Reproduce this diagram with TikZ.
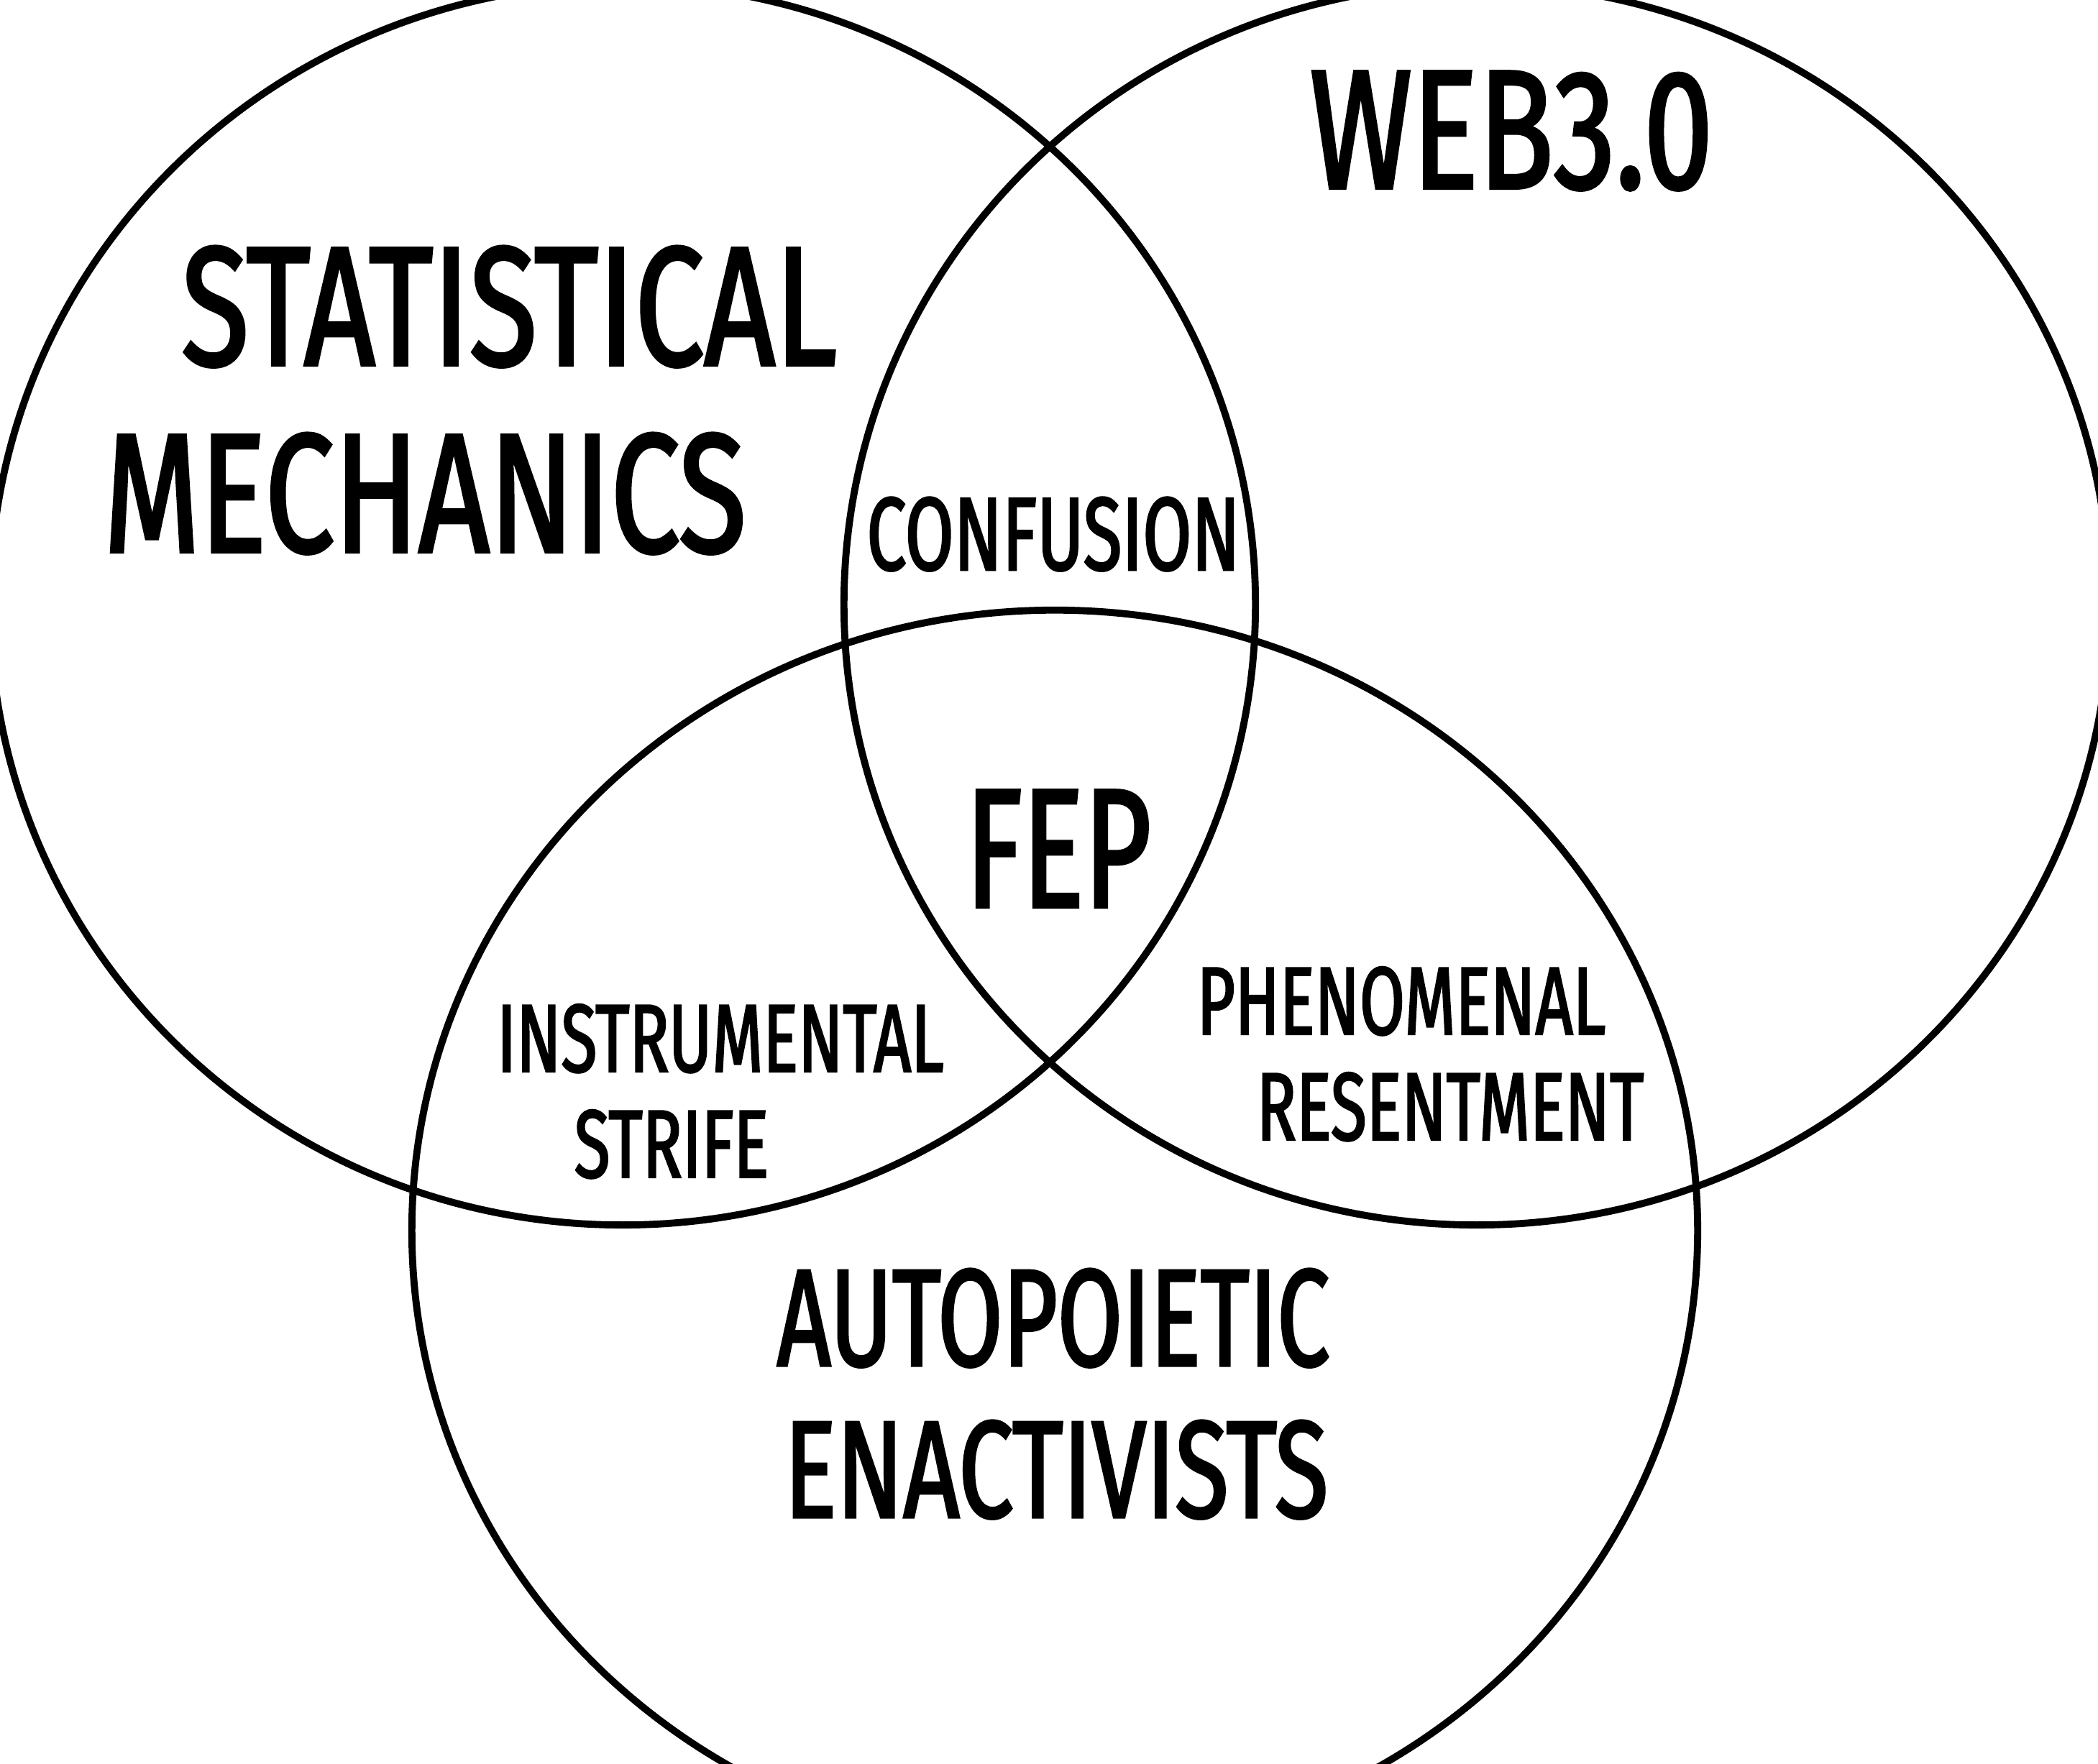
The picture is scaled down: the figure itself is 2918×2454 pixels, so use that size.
\documentclass[tikz,border=0pt]{standalone}
\usepackage{fontspec}
\usepackage{tikz}
\usetikzlibrary{positioning}
\newfontfamily\vennfont[FakeStretch=0.68, FakeBold=1.8]{Fira Sans}
\newfontfamily\vennwide[FakeStretch=0.73, FakeBold=1.8]{Fira Sans}
\tikzstyle{setline} = [draw, line width=1.4pt]
\tikzstyle{bigname} = [font=\vennwide\fontsize{33.6}{40}\selectfont, anchor=base, inner sep=0pt]
\tikzstyle{fepname} = [font=\vennfont\fontsize{33.6}{40}\selectfont, anchor=base, inner sep=0pt]
\tikzstyle{midname} = [font=\vennfont\fontsize{27.4}{32}\selectfont, anchor=base, inner sep=0pt]
\tikzstyle{overlap} = [font=\vennfont\fontsize{20.6}{24}\selectfont, anchor=base, inner sep=0pt]
\tikzstyle{smallname} = [font=\vennfont\fontsize{19.1}{23}\selectfont, anchor=base, inner sep=0pt]
\begin{document}
\begin{tikzpicture}[x=0.005cm, y=0.005cm]
      \useasboundingbox (0,0) rectangle (2918,2454);
      \fill [white] (0,0) rectangle (2918,2454);
      \clip (0,0) rectangle (2918,2454);
      % Sets
      \coordinate (c-stat) at (866,1613);
      \coordinate (c-web) at (2054,1613);
      \coordinate (c-auto) at (1467,742);
      \path [setline] (c-stat) ellipse [x radius=4.405cm, y radius=4.32cm];
      \path [setline] (c-web) ellipse [x radius=4.405cm, y radius=4.32cm];
      \path [setline] (c-auto) ellipse [x radius=4.475cm, y radius=4.32cm];
      % Names
      \node [bigname] (statistical) at (708,1946) {STATISTICAL};
      \node [bigname] (mechanics) at (591,1686) {MECHANICS};
      \node [bigname] (web) at (2102,2192) {WEB3.0};
      \node [midname] (autopoietic) at (1465,554) {AUTOPOIETIC};
      \node [midname, xscale=1.04] (enactivists) at (1469,343) {ENACTIVISTS};
      % Overlaps
      \node [overlap] (confusion) at (1465,1661) {CONFUSION};
      \node [fepname] (fep) at (1472,1192) {FEP};
      \node [smallname] (instrumental) at (1002,963) {INSTRUMENTAL};
      \node [smallname] (strife) at (934,816) {STRIFE};
      \node [smallname] (phenomenal) at (1949,1015) {PHENOMENAL};
      \node [smallname] (resentment) at (2017,868) {RESENTMENT};
    \end{tikzpicture}
\end{document}
